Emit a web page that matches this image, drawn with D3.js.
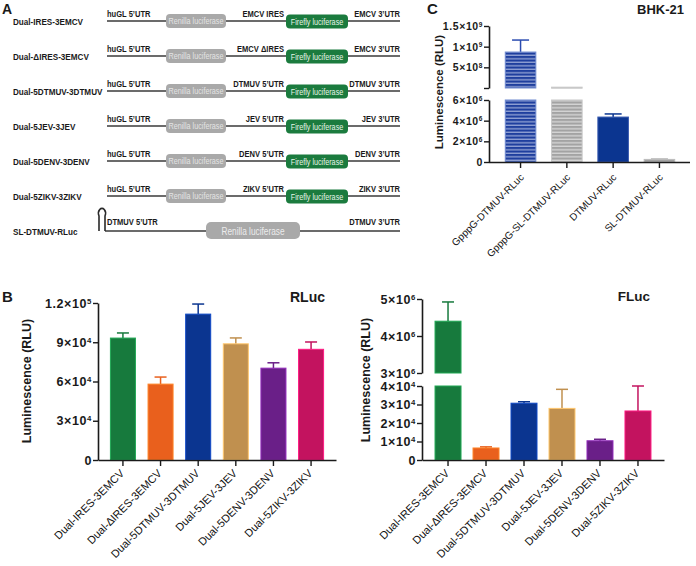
<!DOCTYPE html>
<html><head><meta charset="utf-8">
<script src="https://cdn.jsdelivr.net/npm/d3@7"></script>
<style>
html,body{margin:0;padding:0;background:#fff;}
svg{display:block;font-family:Arial,"Liberation Sans",Helvetica,sans-serif;}
</style></head>
<body>
<svg id="fig" width="696" height="566"></svg>
<script>
// ---------- DATA ----------
// Panel A (schematic of constructs)
const constructs = ["Dual-IRES-3EMCV","Dual-\u0394IRES-3EMCV","Dual-5DTMUV-3DTMUV","Dual-5JEV-3JEV","Dual-5DENV-3DENV","Dual-5ZIKV-3ZIKV","SL-DTMUV-RLuc"];
const leftUTR = ["huGL 5\u2019UTR","huGL 5\u2019UTR","huGL 5\u2019UTR","huGL 5\u2019UTR","huGL 5\u2019UTR","huGL 5\u2019UTR","DTMUV 5\u2019UTR"];
const midElement = ["EMCV IRES","EMCV \u0394IRES","DTMUV 5\u2019UTR","JEV 5\u2019UTR","DENV 5\u2019UTR","ZIKV 5\u2019UTR",""];
const rightUTR = ["EMCV 3\u2019UTR","EMCV 3\u2019UTR","DTMUV 3\u2019UTR","JEV 3\u2019UTR","DENV 3\u2019UTR","ZIKV 3\u2019UTR","DTMUV 3\u2019UTR"];

// Panel B
const bCategories = ["Dual-IRES-3EMCV","Dual-\u2206IRES-3EMCV","Dual-5DTMUV-3DTMUV","Dual-5JEV-3JEV","Dual-5DENV-3DENV","Dual-5ZIKV-3ZIKV"];
const bColors = ["#177a3d","#e9601d","#0b3590","#c0904f","#6a1f88","#c3135f"];
const rlucMeans = [93200, 58000, 111500, 88800, 70200, 84600];
const rlucSD    = [3900, 5400, 7700, 4500, 4100, 5600];
const rlucTicks = [0, 3e4, 6e4, 9e4, 1.2e5];
const flucMeans = [4400000, 6500, 30700, 27900, 10400, 26500];
const flucSD    = [520000, 600, 800, 10300, 800, 13500];
const flucLowerTicks = [0, 1e4, 2e4, 3e4, 4e4];
const flucUpperTicks = [3e6, 4e6, 5e6];

// Panel C
const cCategories = ["GpppG-DTMUV-RLuc","GpppG-SL-DTMUV-RLuc","DTMUV-RLuc","SL-DTMUV-RLuc"];
const cMeans = [8.7e8, 2.0e7, 4.35e6, 2.5e5];
const cSD    = [2.9e8, 0, 3.0e5, 3e4];
const cLowerTicks = [0, 2e6, 4e6, 6e6];
const cUpperTicks = [0, 5e8, 1e9, 1.5e9];

// ---------- HELPERS ----------
const svg = d3.select("#fig");
const INK = "#1a1a1a";

function sciParts(v){
  if (v === 0) return {m:"0", e:null};
  const e = Math.floor(Math.log10(v) + 1e-9);
  const m = +(v / Math.pow(10, e)).toFixed(2);
  return {m: m + "\u00d710", e: e};
}
function styleYAxis(g, fs, hideZeroLabel){
  g.select(".domain").attr("stroke", INK).attr("stroke-width", 1.6);
  g.selectAll(".tick line").attr("stroke", INK).attr("stroke-width", 1.4);
  g.selectAll(".tick text").each(function(d){
    const t = d3.select(this);
    t.text(null).attr("fill", INK).attr("font-weight","bold").attr("font-size", fs)
     .attr("letter-spacing", "0.6px").attr("font-family","Arial, 'Liberation Sans', sans-serif");
    if (hideZeroLabel && d === 0) return;
    const p = sciParts(d);
    t.append("tspan").text(p.m);
    if (p.e !== null) t.append("tspan").attr("dy","-0.5em").attr("font-size","62%").text(p.e);
  });
}
function styleXAxis(g, fs, dx, dy){
  g.select(".domain").attr("stroke", INK).attr("stroke-width", 1.6);
  g.selectAll(".tick line").attr("stroke", INK).attr("stroke-width", 1.4);
  g.selectAll(".tick text")
    .attr("fill", "#111").attr("font-size", fs).attr("font-family","Arial, 'Liberation Sans', sans-serif")
    .attr("text-anchor","end").attr("dy", null).attr("y", null)
    .attr("transform", `translate(${dx},${dy}) rotate(-45)`);
}
function yTitle(x, y, fs, text){
  svg.append("text").attr("transform", `translate(${x},${y}) rotate(-90)`)
    .attr("text-anchor","middle").attr("font-weight","bold").attr("font-size", fs)
    .attr("fill", INK).text(text);
}
function errBar(g, cx, yTop, yBase, color, cap){
  g.append("line").attr("x1",cx).attr("x2",cx).attr("y1",yBase).attr("y2",yTop)
    .attr("stroke",color).attr("stroke-width",1.5);
  g.append("line").attr("x1",cx-cap/2).attr("x2",cx+cap/2).attr("y1",yTop).attr("y2",yTop)
    .attr("stroke",color).attr("stroke-width",1.5);
}

// ---------- PANEL A ----------
const A = svg.append("g");
A.append("text").attr("x",2).attr("y",14).attr("font-weight","bold").attr("font-size",14).attr("fill",INK).text("A");
const rowY = d3.scalePoint().domain(constructs).range([21, 231]);
const lineX0 = 107, lineX1 = 400;
const SX = 0.83;
function condensed(g, x, y, txt, fs, weight, anchor, fill){
  g.append("text").attr("transform", `translate(${x},${y}) scale(${SX},1)`)
    .attr("font-size", fs).attr("font-weight", weight).attr("text-anchor", anchor)
    .attr("fill", fill).text(txt);
}
constructs.forEach((name, i) => {
  const y = rowY(name);
  const isSL = i === constructs.length - 1;
  condensed(A, 13, y + 4, name, 9.8, "bold", "start", INK);
  A.append("line").attr("x1", isSL ? 105 : lineX0).attr("x2", lineX1).attr("y1", y).attr("y2", y)
    .attr("stroke","#3a3a3a").attr("stroke-width",1.5);
  if (!isSL){
    A.append("rect").attr("x",166).attr("y",y-7).attr("width",60).attr("height",14).attr("rx",4)
      .attr("fill","#a9a9a9");
    condensed(A, 196, y + 3, "Renilla luciferase", 8.7, "normal", "middle", "#e4e4e4");
    A.append("rect").attr("x",286).attr("y",y-6.5).attr("width",62).attr("height",14).attr("rx",4)
      .attr("fill","#1b7b3e");
    condensed(A, 317, y + 3.5, "Firefly luciferase", 8.7, "normal", "middle", "#e8f4ea");
    condensed(A, lineX0, y - 4, leftUTR[i], 9.1, "bold", "start", INK);
    condensed(A, 284, y - 4, midElement[i], 9.1, "bold", "end", INK);
    condensed(A, lineX1, y - 4, rightUTR[i], 9.1, "bold", "end", INK);
  } else {
    // stem-loop
    A.append("path").attr("d", `M99,${y} L99,${y-15} A3.5,5 0 1,1 105,${y-15} L105,${y}`)
      .attr("fill","none").attr("stroke","#2a2a2a").attr("stroke-width",1.6);
    A.append("rect").attr("x",206).attr("y",y-9).attr("width",94).attr("height",17).attr("rx",5)
      .attr("fill","#a9a9a9");
    condensed(A, 253, y + 3.5, "Renilla luciferase", 10, "normal", "middle", "#ececec");
    condensed(A, lineX0, y - 6, leftUTR[i], 9.1, "bold", "start", INK);
    condensed(A, lineX1, y - 6, rightUTR[i], 9.1, "bold", "end", INK);
  }
});

// ---------- PANEL B : RLuc ----------
svg.append("text").attr("x",2).attr("y",302).attr("font-weight","bold").attr("font-size",15).attr("fill",INK).text("B");
const R = svg.append("g");
const xR = d3.scaleBand().domain(bCategories).range([98, 336]).paddingInner(0.335).paddingOuter(0.33);
const yR = d3.scaleLinear().domain([0, 1.2e5]).range([460, 303]);
bCategories.forEach((c, i) => {
  const x = xR(c), w = xR.bandwidth();
  errBar(R, x + w/2, yR(rlucMeans[i] + rlucSD[i]), yR(rlucMeans[i]), bColors[i], 12);
  R.append("rect").attr("x", x).attr("y", yR(rlucMeans[i])).attr("width", w)
    .attr("height", yR(0) - yR(rlucMeans[i])).attr("fill", bColors[i])
    .attr("stroke", d3.color(bColors[i]).brighter(0.9)).attr("stroke-width", 1);
});
const gRy = R.append("g").attr("transform","translate(98,0)")
  .call(d3.axisLeft(yR).tickValues(rlucTicks).tickSize(5).tickSizeOuter(0).tickPadding(1));
styleYAxis(gRy, 12.5, false);
const gRx = R.append("g").attr("transform","translate(0,460)")
  .call(d3.axisBottom(xR).tickSize(6).tickSizeOuter(0));
styleXAxis(gRx, 11, 2, 14);
R.append("text").attr("x",325).attr("y",302).attr("text-anchor","end").attr("font-weight","bold")
  .attr("font-size",14).attr("fill",INK).text("RLuc");
yTitle(31, 381, 12.5, "Luminescence (RLU)");

// ---------- PANEL B : FLuc (broken axis) ----------
const F = svg.append("g");
const xF = d3.scaleBand().domain(bCategories).range([422, 664]).paddingInner(0.316).paddingOuter(0.343);
const yFl = d3.scaleLinear().domain([0, 4e4]).range([460, 386]);
const yFu = d3.scaleLinear().domain([3e6, 5e6]).range([373, 299]);
bCategories.forEach((c, i) => {
  const x = xF(c), w = xF.bandwidth(), v = flucMeans[i], col = bColors[i];
  const stroke = d3.color(col).brighter(0.9);
  if (v > yFl.domain()[1]) {
    F.append("rect").attr("x",x).attr("y",yFl(4e4)).attr("width",w).attr("height",yFl(0)-yFl(4e4))
      .attr("fill",col).attr("stroke",stroke).attr("stroke-width",1);
    errBar(F, x + w/2, yFu(v + flucSD[i]), yFu(v), col, 12);
    F.append("rect").attr("x",x).attr("y",yFu(v)).attr("width",w).attr("height",yFu(3e6)-yFu(v))
      .attr("fill",col).attr("stroke",stroke).attr("stroke-width",1);
  } else {
    errBar(F, x + w/2, yFl(v + flucSD[i]), yFl(v), col, 12);
    F.append("rect").attr("x",x).attr("y",yFl(v)).attr("width",w).attr("height",yFl(0)-yFl(v))
      .attr("fill",col).attr("stroke",stroke).attr("stroke-width",1);
  }
});
const gFl = F.append("g").attr("transform","translate(422,0)")
  .call(d3.axisLeft(yFl).tickValues(flucLowerTicks).tickSize(5).tickSizeOuter(0).tickPadding(1));
styleYAxis(gFl, 12.5, false);
const gFu = F.append("g").attr("transform","translate(422,0)")
  .call(d3.axisLeft(yFu).tickValues(flucUpperTicks).tickSize(5).tickSizeOuter(0).tickPadding(1));
styleYAxis(gFu, 12.5, false);
const gFx = F.append("g").attr("transform","translate(0,460)")
  .call(d3.axisBottom(xF).tickSize(6).tickSizeOuter(0));
styleXAxis(gFx, 11, 2, 14);
F.append("text").attr("x",650).attr("y",301).attr("text-anchor","end").attr("font-weight","bold")
  .attr("font-size",13.5).attr("fill",INK).text("FLuc");
yTitle(370, 380, 12.5, "Luminescence (RLU)");

// ---------- PANEL C (broken axis) ----------
const C = svg.append("g");
const defs = svg.append("defs");
function stripes(id, base, line){
  const p = defs.append("pattern").attr("id",id).attr("patternUnits","userSpaceOnUse")
    .attr("width",6).attr("height",3.5);
  p.append("rect").attr("width",6).attr("height",3.5).attr("fill",base);
  p.append("rect").attr("y",2.3).attr("width",6).attr("height",0.9).attr("fill",line);
}
stripes("stripeBlue", "#1f3f9e", "#c9d3ef");
stripes("stripeGray", "#a3a3a3", "#eeeeee");
const cFills = ["url(#stripeBlue)","url(#stripeGray)","#0b3590","#a2a2a2"];
const cStroke = ["#6f8ad0","#c8c8c8","#3a5bb0","#bdbdbd"];
const cErr = ["#2a4bb0","#9a9a9a","#0b3590","#a8a8a8"];

svg.append("text").attr("x",427).attr("y",14).attr("font-weight","bold").attr("font-size",15).attr("fill",INK).text("C");
svg.append("text").attr("x",684).attr("y",14).attr("text-anchor","end").attr("font-weight","bold").attr("font-size",13).attr("fill",INK).text("BHK-21");

const xC = d3.scaleBand().domain(cCategories).range([490, 690]).paddingInner(0.34).paddingOuter(0.33);
const yCl = d3.scaleLinear().domain([0, 6e6]).range([162, 100]);
const yCu = d3.scaleLinear().domain([0, 1.5e9]).range([88, 26]);
cCategories.forEach((c, i) => {
  const x = xC(c), w = xC.bandwidth(), v = cMeans[i];
  if (v > yCl.domain()[1]) {
    C.append("rect").attr("x",x).attr("y",yCl(6e6)).attr("width",w).attr("height",yCl(0)-yCl(6e6))
      .attr("fill",cFills[i]).attr("stroke",cStroke[i]).attr("stroke-width",1);
    if (cSD[i] > 0) errBar(C, x + w/2, yCu(v + cSD[i]), yCu(v), cErr[i], 17);
    C.append("rect").attr("x",x).attr("y",yCu(v)).attr("width",w).attr("height",Math.max(1, yCu(0)-yCu(v)))
      .attr("fill",cFills[i]).attr("stroke",cStroke[i]).attr("stroke-width",1);
  } else {
    if (cSD[i] > 0) errBar(C, x + w/2, yCl(v + cSD[i]), yCl(v), cErr[i], 17);
    C.append("rect").attr("x",x).attr("y",yCl(v)).attr("width",w).attr("height",yCl(0)-yCl(v))
      .attr("fill",cFills[i]).attr("stroke",cStroke[i]).attr("stroke-width",1);
  }
});
const gCl = C.append("g").attr("transform","translate(489,0)")
  .call(d3.axisLeft(yCl).tickValues(cLowerTicks).tickSize(5).tickSizeOuter(0).tickPadding(1));
styleYAxis(gCl, 10.5, false);
const gCu = C.append("g").attr("transform","translate(489,0)")
  .call(d3.axisLeft(yCu).tickValues(cUpperTicks).tickSize(5).tickSizeOuter(0).tickPadding(1));
styleYAxis(gCu, 10.5, true);
const gCx = C.append("g").attr("transform","translate(0,162)")
  .call(d3.axisBottom(xC).tickSize(6).tickSizeOuter(0));
gCx.select(".domain").attr("d","M489,0.5H690");
styleXAxis(gCx, 10, 4, 16);
yTitle(443, 92, 11.5, "Luminescence (RLU)");
</script>
</body></html>
